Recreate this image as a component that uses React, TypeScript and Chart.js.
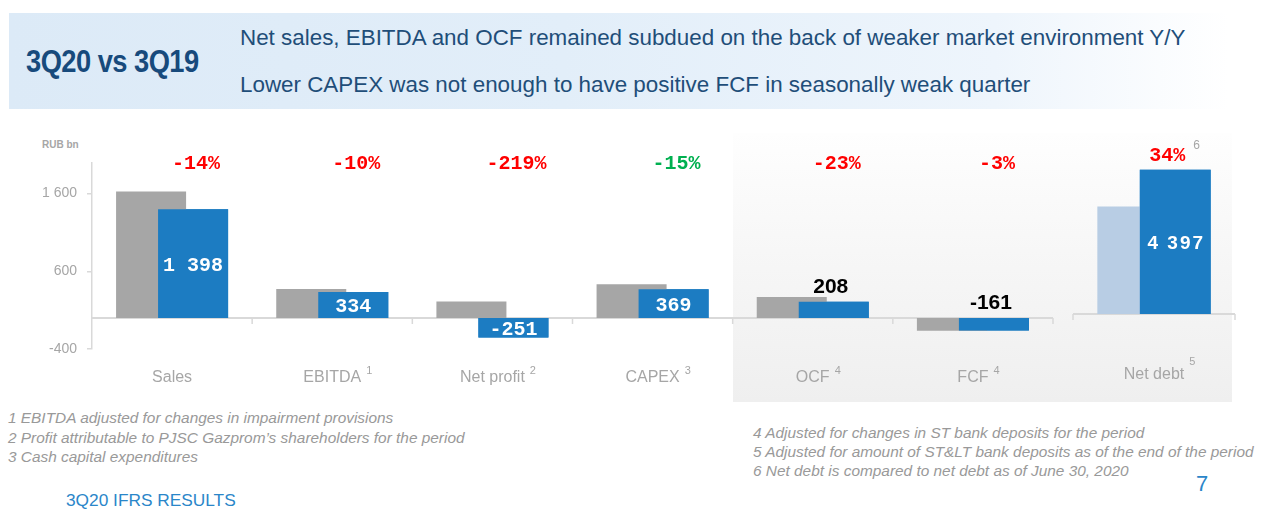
import React, { useEffect, useRef } from 'react';
import { Chart, registerables } from 'chart.js';

Chart.register(...registerables);

// ---- data ----
const categories = ['Sales', 'EBITDA', 'Net profit', 'CAPEX', 'OCF', 'FCF'];
const categoryNotes = ['', '1', '2', '3', '4', '4'];
const values3Q19 = [1626, 371, 211, 434, 270, -166];
const values3Q20 = [1398, 334, -251, 369, 208, -161];
const changeLabels = ['-14%', '-10%', '-219%', '-15%', '-23%', '-3%'];
const changeColors = ['#ff0000', '#ff0000', '#ff0000', '#00b050', '#ff0000', '#ff0000'];
const valueInside = [true, true, true, true, false, false];
const yTickValues = [-400, 600, 1600];

const debtCategories = ['Net debt'];
const debtNotes = ['5'];
const debt2Q20 = [3281];
const debt3Q20 = [4397];
const debtChangeLabels = ['34%'];
const debtChangeNotes = ['6'];

const headerLines = [
  'Net sales, EBITDA and OCF remained subdued on the back of weaker market environment Y/Y',
  'Lower CAPEX was not enough to have positive FCF in seasonally weak quarter',
];
const footLeft = [
  '1 EBITDA adjusted for changes in impairment provisions',
  '2 Profit attributable to PJSC Gazprom\u2019s shareholders for the period',
  '3 Cash capital expenditures',
];
const footRight = [
  '4 Adjusted for changes in ST bank deposits for the period',
  '5 Adjusted for amount of ST&LT bank deposits as of the end of the period',
  '6 Net debt is compared to net debt as of June 30, 2020',
];

const SANS = "'Liberation Sans', Arial, sans-serif";
const MONO = "'Liberation Mono', 'DejaVu Sans Mono', monospace";
const GRAY = '#a6a6a6';
const LINE = '#d9d9d9';
const BLUE = '#1c7cc2';
const LABEL_SIZE = 16;
const LABEL_LH = LABEL_SIZE * 1.2;

const fmt = (v: number) => {
  const s = Math.abs(Math.round(v)).toString().replace(/\B(?=(\d{3})+(?!\d))/g, ' ');
  return (v < 0 ? '-' : '') + s;
};

function drawBaseline(chart: any, allBoundaries: boolean) {
  const ctx = chart.ctx;
  const xs = chart.scales.x;
  const ys = chart.scales.y;
  const { left, right } = chart.chartArea;
  const y0 = ys.getPixelForValue(0);
  ctx.save();
  ctx.strokeStyle = LINE;
  ctx.lineWidth = 2;
  ctx.beginPath();
  ctx.moveTo(left, y0);
  ctx.lineTo(right, y0);
  ctx.stroke();
  ctx.lineWidth = 1.5;
  const xsTicks: number[] = [];
  if (allBoundaries) {
    for (let i = 1; i < chart.data.labels.length; i++) {
      xsTicks.push((xs.getPixelForValue(i - 1) + xs.getPixelForValue(i)) / 2);
    }
  } else {
    xsTicks.push(left);
  }
  xsTicks.push(right);
  ctx.beginPath();
  xsTicks.forEach((x) => {
    ctx.moveTo(x, y0);
    ctx.lineTo(x, y0 + 6);
  });
  ctx.stroke();
  ctx.restore();
}

function drawNotes(chart: any, notes: string[], raise: number) {
  const ctx = chart.ctx;
  const xs = chart.scales.x;
  const pad = xs.options.ticks.padding;
  const yc = chart.chartArea.bottom + pad + LABEL_LH / 2;
  chart.data.labels.forEach((lab: string, i: number) => {
    if (!notes[i]) return;
    ctx.save();
    ctx.font = `${LABEL_SIZE}px ${SANS}`;
    const w = ctx.measureText(lab).width;
    const x = xs.getPixelForValue(i) + w / 2 + 5;
    ctx.font = `11px ${SANS}`;
    ctx.fillStyle = GRAY;
    ctx.textAlign = 'left';
    ctx.textBaseline = 'middle';
    ctx.fillText(notes[i], x, yc - raise);
    ctx.restore();
  });
}

function redrawFront(chart: any) {
  const meta = chart.getDatasetMeta(1);
  meta.data.forEach((bar: any) => bar.draw(chart.ctx));
}

const mainOverlay = {
  id: 'mainOverlay',
  beforeDatasetsDraw(chart: any) {
    drawBaseline(chart, true);
  },
  afterDatasetsDraw(chart: any) {
    redrawFront(chart);
    const ctx = chart.ctx;
    const meta = chart.getDatasetMeta(1);
    const top = chart.chartArea.top;
    meta.data.forEach((bar: any, i: number) => {
      const { x, y, base, width } = bar.getProps(['x', 'y', 'base', 'width'], true);
      ctx.save();
      ctx.font = `bold 20px ${MONO}`;
      ctx.fillStyle = changeColors[i];
      ctx.textAlign = 'center';
      ctx.textBaseline = 'middle';
      ctx.fillText(changeLabels[i], x + 3, top + 1);
      ctx.restore();
      const v = values3Q20[i];
      const t = Math.min(y, base);
      const b = Math.max(y, base);
      ctx.save();
      ctx.textAlign = 'center';
      ctx.textBaseline = 'middle';
      if (valueInside[i]) {
        ctx.beginPath();
        ctx.rect(x - width / 2, t, width, b - t);
        ctx.clip();
        ctx.font = `bold 20px ${MONO}`;
        ctx.fillStyle = '#ffffff';
        ctx.fillText(fmt(v), x, (t + b) / 2 + 2);
      } else {
        ctx.font = `bold 21px ${SANS}`;
        ctx.fillStyle = '#000000';
        ctx.fillText(fmt(v), x - 3, t - 15);
      }
      ctx.restore();
    });
  },
  afterDraw(chart: any) {
    drawNotes(chart, categoryNotes, 7);
  },
};

const debtOverlay = {
  id: 'debtOverlay',
  beforeDatasetsDraw(chart: any) {
    drawBaseline(chart, false);
  },
  afterDatasetsDraw(chart: any) {
    redrawFront(chart);
    const ctx = chart.ctx;
    const meta = chart.getDatasetMeta(1);
    meta.data.forEach((bar: any, i: number) => {
      const { x, y, base } = bar.getProps(['x', 'y', 'base'], true);
      ctx.save();
      ctx.font = `bold 20px ${MONO}`;
      ctx.fillStyle = '#ff0000';
      ctx.textAlign = 'center';
      ctx.textBaseline = 'middle';
      const lx = x - 8;
      const ly = y - 14;
      ctx.fillText(debtChangeLabels[i], lx, ly);
      const w = ctx.measureText(debtChangeLabels[i]).width;
      ctx.font = `12px ${SANS}`;
      ctx.fillStyle = GRAY;
      ctx.textAlign = 'left';
      ctx.fillText(debtChangeNotes[i], lx + w / 2 + 8, ly - 10);
      ctx.restore();

      ctx.save();
      ctx.font = `bold 19px ${SANS}`;
      (ctx as any).letterSpacing = '2px';
      ctx.fillStyle = '#ffffff';
      ctx.textAlign = 'center';
      ctx.textBaseline = 'middle';
      ctx.fillText(fmt(debt3Q20[i]), x + 1, (y + base) / 2 + 2);
      ctx.restore();
    });
  },
  afterDraw(chart: any) {
    drawNotes(chart, debtNotes, 13);
  },
};

export default function App() {
  const mainRef = useRef<HTMLCanvasElement>(null);
  const debtRef = useRef<HTMLCanvasElement>(null);

  useEffect(() => {
    const main = new Chart(mainRef.current as HTMLCanvasElement, {
      type: 'bar',
      data: {
        labels: categories,
        datasets: [
          { label: '3Q19', data: values3Q19, backgroundColor: GRAY, categoryPercentage: 0.5245, barPercentage: 1.667 },
          { label: '3Q20', data: values3Q20, backgroundColor: BLUE, categoryPercentage: 0.5245, barPercentage: 1.667 },
        ],
      },
      options: {
        responsive: false,
        animation: false,
        layout: { padding: { left: 0, right: 7, top: 42.5, bottom: 0 } },
        plugins: { legend: { display: false }, tooltip: { enabled: false } },
        scales: {
          x: {
            grid: { display: false, drawTicks: false },
            border: { display: false },
            ticks: { color: GRAY, font: { family: SANS, size: LABEL_SIZE }, padding: 19, maxRotation: 0, autoSkip: false },
            afterFit: (s: any) => {
              s.height = 51;
            },
          },
          y: {
            min: -400,
            max: 2000,
            afterBuildTicks: (s: any) => {
              s.ticks = yTickValues.map((v) => ({ value: v }));
            },
            afterFit: (s: any) => {
              s.width = 92;
            },
            grid: { drawOnChartArea: false, color: LINE, tickLength: 5, lineWidth: 1.5 },
            border: { color: LINE, width: 1.5 },
            ticks: { color: GRAY, font: { family: SANS, size: 14 }, padding: 10, callback: (v: any) => fmt(Number(v)) },
          },
        },
      },
      plugins: [mainOverlay],
    });

    const debt = new Chart(debtRef.current as HTMLCanvasElement, {
      type: 'bar',
      data: {
        labels: debtCategories,
        datasets: [
          { label: '2Q20', data: debt2Q20, backgroundColor: '#b8cde4', categoryPercentage: 0.5245, barPercentage: 1.667 },
          { label: '3Q20', data: debt3Q20, backgroundColor: BLUE, categoryPercentage: 0.5245, barPercentage: 1.667 },
        ],
      },
      options: {
        responsive: false,
        animation: false,
        layout: { padding: { left: 13, right: 15, top: 42.5, bottom: 0 } },
        plugins: { legend: { display: false }, tooltip: { enabled: false } },
        scales: {
          x: {
            grid: { display: false, drawTicks: false },
            border: { display: false },
            ticks: { color: GRAY, font: { family: SANS, size: LABEL_SIZE }, padding: 51, maxRotation: 0, autoSkip: false },
            afterFit: (s: any) => {
              s.height = 86;
            },
          },
          y: { display: false, min: 0, max: 4620 },
        },
      },
      plugins: [debtOverlay],
    });

    return () => {
      main.destroy();
      debt.destroy();
    };
  }, []);

  const abs = (l: number, t: number, extra: any = {}) => ({ position: 'absolute' as const, left: l, top: t, ...extra });

  return (
    <div style={{ position: 'absolute', left: 0, top: 0, width: 1267, height: 517, background: '#ffffff', overflow: 'hidden', fontFamily: SANS }}>
      <div
        style={abs(9, 13, {
          width: 1232,
          height: 96,
          background: 'linear-gradient(to right, #dceaf7 0%, #e2eef9 45%, #eef5fc 80%, #ffffff 99%)',
        })}
      />
      <div
        style={abs(26, 41, {
          fontWeight: 'bold',
          fontSize: 31,
          color: '#174a7c',
          lineHeight: '42px',
          whiteSpace: 'nowrap',
          transform: 'scaleX(0.88)',
          transformOrigin: 'left center',
          letterSpacing: '-0.6px',
        })}
      >
        3Q20 vs 3Q19
      </div>
      {headerLines.map((t, i) => (
        <div key={i} style={abs(240, 25 + i * 47, { fontSize: 22.4, color: '#1f4e79', lineHeight: '26px', whiteSpace: 'nowrap' })}>
          {t}
        </div>
      ))}

      <div style={abs(733, 133, { width: 499, height: 269, background: 'linear-gradient(to bottom, #fefefe 0%, #f6f6f6 50%, #efefef 100%)' })} />

      <div style={abs(42, 138, { fontWeight: 'bold', fontSize: 10, color: GRAY, lineHeight: '14px', whiteSpace: 'nowrap' })}>RUB bn</div>

      <canvas ref={mainRef} width={1060} height={280} style={abs(0, 120, { width: 1060, height: 280 })} />
      <canvas ref={debtRef} width={190} height={280} style={abs(1060, 120, { width: 190, height: 280 })} />

      {footLeft.map((t, i) => (
        <div key={i} style={abs(8, 408 + i * 19.5, { fontStyle: 'italic', fontSize: 15.4, color: '#999999', lineHeight: '19px', whiteSpace: 'nowrap' })}>
          {t}
        </div>
      ))}
      {footRight.map((t, i) => (
        <div key={i} style={abs(753, 423 + i * 19, { fontStyle: 'italic', fontSize: 15.4, color: '#999999', lineHeight: '19px', whiteSpace: 'nowrap' })}>
          {t}
        </div>
      ))}
      <div style={abs(1196, 470, { fontSize: 22, color: '#2a86c9', lineHeight: '28px' })}>7</div>
      <div style={abs(66, 490, { fontSize: 17.3, color: '#2a86c9', lineHeight: '21px', whiteSpace: 'nowrap' })}>3Q20 IFRS RESULTS</div>
    </div>
  );
}
